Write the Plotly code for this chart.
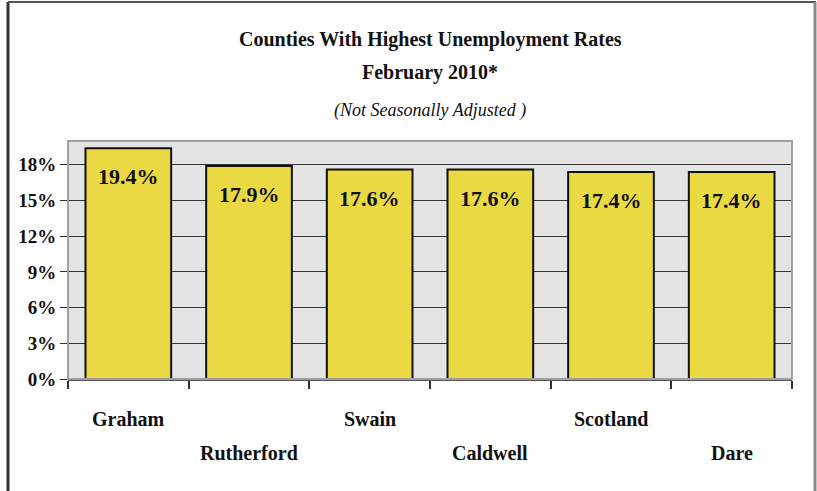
import plotly.graph_objects as go

counties = ["Graham", "Rutherford", "Swain", "Caldwell", "Scotland", "Dare"]
rates = [19.4, 17.9, 17.6, 17.6, 17.4, 17.4]
y_ticks = [0, 3, 6, 9, 12, 15, 18]
title_lines = ["Counties With Highest Unemployment Rates", "February 2010*", "(Not Seasonally Adjusted )"]

FONT = "Liberation Serif"

# plot area geometry in pixels
W, H = 817, 491
L, R, T, B = 68, 25, 141, 112
pw, ph = W - L - R, H - T - B

def px_x(x):
    return (x - L) / pw

def px_y(y):
    return (H - B - y) / ph

fig = go.Figure()
fig.add_trace(go.Bar(
    x=counties, y=rates, width=0.71,
    marker=dict(color="#EBD944", line=dict(color="#111111", width=2)),
    hoverinfo="skip",
))

annotations = []
for c, v in zip(counties, rates):
    annotations.append(dict(x=c, y=v, xref="x", yref="y", text=f"<b>{v:.1f}%</b>",
                            showarrow=False, yanchor="top", yshift=-14,
                            font=dict(family=FONT, size=22, color="#111111")))
label_rows = [px_y(419), px_y(453)]
for i, c in enumerate(counties):
    annotations.append(dict(x=c, y=label_rows[i % 2], xref="x", yref="paper", text=f"<b>{c}</b>",
                            showarrow=False, yanchor="middle",
                            font=dict(family=FONT, size=20, color="#111111")))
title_y = [40, 73, 110]
for i, t in enumerate(title_lines):
    txt = f"<b>{t}</b>" if i < 2 else f"<i>{t}</i>"
    annotations.append(dict(x=0.5, y=px_y(title_y[i]), xref="paper", yref="paper", text=txt,
                            showarrow=False, yanchor="middle", xanchor="center",
                            font=dict(family=FONT, size=20 if i < 2 else 18, color="#111111")))

shapes = [
    dict(type="rect", xref="paper", yref="paper", x0=0, x1=1, y0=0, y1=1,
         line=dict(color="#A0A0A0", width=2), layer="above"),
    dict(type="line", xref="paper", yref="paper", x0=px_x(8), x1=px_x(8), y0=px_y(2), y1=px_y(495),
         line=dict(color="#333333", width=3)),
    dict(type="line", xref="paper", yref="paper", x0=px_x(8), x1=px_x(816), y0=px_y(2), y1=px_y(2),
         line=dict(color="#555555", width=2)),
    dict(type="line", xref="paper", yref="paper", x0=px_x(815), x1=px_x(815), y0=px_y(2), y1=px_y(495),
         line=dict(color="#888888", width=3)),
]

fig.update_layout(
    width=W, height=H,
    margin=dict(l=L, r=R, t=T, b=B),
    paper_bgcolor="white",
    plot_bgcolor="#E4E4E4",
    showlegend=False,
    annotations=annotations,
    shapes=shapes,
    bargap=0.29,
)
fig.update_xaxes(
    type="category", showticklabels=False, ticks="outside", tickson="boundaries",
    ticklen=8, tickcolor="#333333", tickwidth=1.5,
    showline=True, linecolor="#555555", linewidth=1.5, showgrid=False,
)
fig.update_yaxes(
    range=[0, 20], tickvals=y_ticks, ticktext=[f"<b>{t}%</b>" for t in y_ticks],
    ticks="outside", ticklen=7, tickcolor="#333333",
    tickfont=dict(family=FONT, size=19, color="#111111"),
    showgrid=True, gridcolor="#333333", gridwidth=1,
    zeroline=False, showline=False,
)

fig.write_html("out.html", config={"displayModeBar": False},
               post_script="document.body.style.margin='0';document.body.style.overflow='hidden';")
